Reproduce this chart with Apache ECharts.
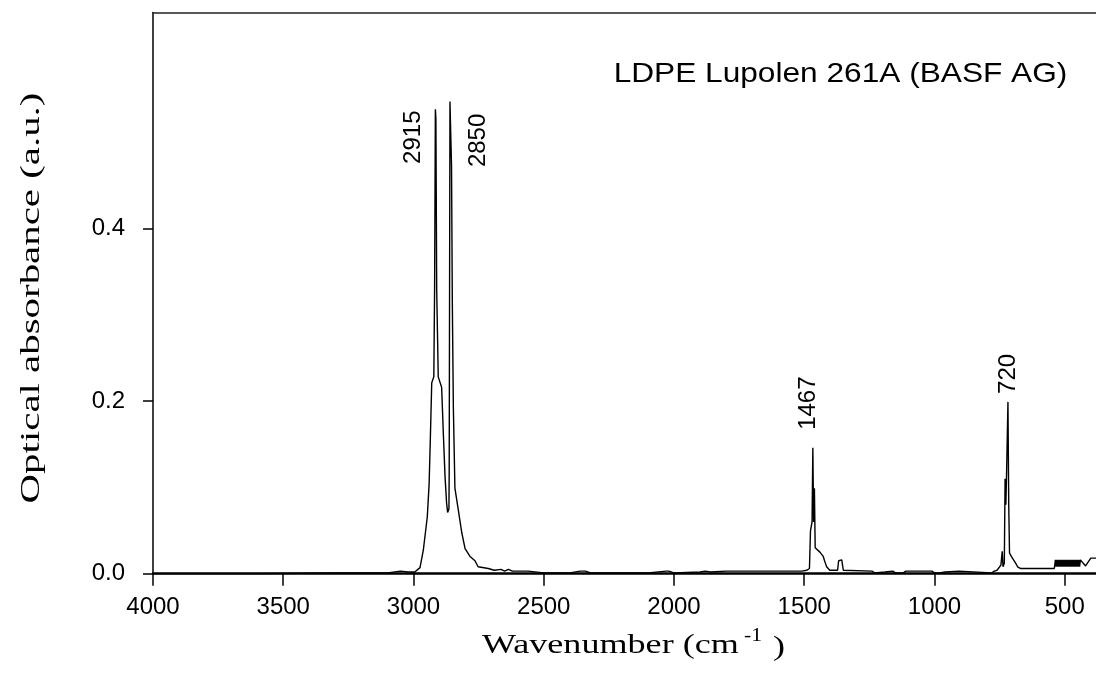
<!DOCTYPE html>
<html>
<head>
<meta charset="utf-8">
<script src="https://cdn.jsdelivr.net/npm/echarts@6/dist/echarts.min.js"></script>
<style>html,body{margin:0;padding:0;background:#fff;}#c{width:1096px;height:682px;}</style>
</head>
<body>
<div id="c"></div>
<script>
// Spectrum (wavenumber in cm^-1, absorbance a.u.)
const wavenumber = [4000,3600,3300,3100,3050,3020,2995,2989,2975,2962,2947,2940,2935,2930,2922,2919,2916,2914,2911,2908,2905,2898,2892,2885,2879,2873,2869,2864,2863,2860,2856,2854,2851,2847,2841,2828,2815,2802,2783,2764,2752,2713,2690,2664,2650,2636,2620,2560,2500,2400,2360,2340,2320,2100,2030,2020,2000,1900,1880,1860,1800,1700,1600,1510,1490,1480,1478,1476,1470,1467,1464,1461,1458,1440,1427,1421,1414,1402,1372,1368,1356,1350,1345,1240,1230,1190,1160,1150,1120,1110,1010,1000,980,960,906,900,780,770,760,745,740,737,732,729,726,723,718,715,712,705,698,688,681,669,600,540,536,533,530,527,524,521,518,515,512,509,506,503,500,497,494,491,488,485,482,479,476,473,470,467,464,461,458,455,452,449,446,443,440,420,400,380];
const absorbance = [0.000,0.000,0.001,0.001,0.003,0.002,0.002,0.004,0.007,0.028,0.066,0.104,0.160,0.221,0.228,0.330,0.538,0.527,0.330,0.330,0.228,0.227,0.216,0.159,0.113,0.082,0.071,0.075,0.116,0.547,0.547,0.472,0.316,0.193,0.099,0.074,0.048,0.029,0.020,0.015,0.008,0.006,0.004,0.005,0.003,0.005,0.003,0.003,0.001,0.001,0.003,0.003,0.001,0.001,0.003,0.003,0.001,0.002,0.003,0.002,0.003,0.003,0.003,0.003,0.004,0.006,0.008,0.050,0.060,0.146,0.060,0.099,0.030,0.025,0.020,0.014,0.008,0.004,0.004,0.015,0.016,0.004,0.003,0.003,0.001,0.002,0.003,0.001,0.001,0.003,0.003,0.001,0.001,0.002,0.003,0.001,0.001,0.003,0.004,0.010,0.026,0.008,0.012,0.110,0.080,0.120,0.199,0.080,0.024,0.020,0.018,0.012,0.008,0.006,0.006,0.006,0.016,0.008,0.016,0.008,0.016,0.008,0.016,0.008,0.016,0.008,0.016,0.008,0.016,0.008,0.016,0.008,0.016,0.008,0.016,0.008,0.016,0.008,0.016,0.008,0.016,0.008,0.016,0.008,0.016,0.008,0.016,0.008,0.016,0.009,0.018,0.018,0.018,0.018];

const xTicks = [4000,3500,3000,2500,2000,1500,1000,500];
const yTicks = [0, 0.2, 0.4];

const peakLabels = ['2915','2850','1467','720'];
const peakWn = [2915,2850,1467,720];
const peakAbs = [0.538,0.547,0.146,0.199];
const peakOffsets = [[-22,28],[26,39],[-4.5,-44.5],[0.5,-28]];

const chartTitle = 'LDPE Lupolen 261A (BASF AG)';
const xTitle = 'Wavenumber (cm';
const xTitleSup = '-1';
const xTitleEnd = ')';
const yTitle = 'Optical absorbance (a.u.)';

const sans = "'Liberation Sans', Arial, sans-serif";
const serif = "'Liberation Serif', 'Times New Roman', serif";

const chart = echarts.init(document.getElementById('c'), null, {renderer: 'canvas'});
const seriesData = wavenumber.map((w, i) => [w, absorbance[i]]);

chart.setOption({
  animation: false,
  backgroundColor: '#ffffff',
  grid: {left: 153, right: -5, top: 12.5, bottom: 108.3, show: false},
  xAxis: [{
    type: 'value', inverse: true, min: 380, max: 4000,
    axisLine: {show: true, onZero: false, lineStyle: {color: '#000', width: 2.5}},
    axisTick: {show: true, length: 12, inside: false, customValues: xTicks, lineStyle: {color: '#000', width: 1.5}},
    axisLabel: {customValues: xTicks, margin: 22, color: '#000', fontFamily: sans, fontSize: 24, formatter: v => String(v)},
    splitLine: {show: false}
  }, {
    type: 'value', inverse: true, min: 380, max: 4000, position: 'top',
    axisLine: {show: true, onZero: false, lineStyle: {color: '#222', width: 1.5}},
    axisTick: {show: false}, axisLabel: {show: false}, splitLine: {show: false}
  }],
  yAxis: {
    type: 'value', min: 0, max: 0.65,
    axisLine: {show: true, lineStyle: {color: '#000', width: 1.5}},
    axisTick: {show: true, length: 10, customValues: yTicks, lineStyle: {color: '#000', width: 1.5}},
    axisLabel: {customValues: yTicks, margin: 28, color: '#000', fontFamily: sans, fontSize: 24, formatter: v => Number(v).toFixed(1)},
    splitLine: {show: false}
  },
  series: [{
    type: 'line', data: seriesData, showSymbol: false, symbol: 'none', xAxisIndex: 0,
    lineStyle: {color: '#000', width: 1.4}, z: 3
  }]
});

const graphics = [];
peakLabels.forEach((t, i) => {
  const p = chart.convertToPixel({xAxisIndex: 0, yAxisIndex: 0}, [peakWn[i], peakAbs[i]]);
  graphics.push({
    type: 'text', x: p[0] + peakOffsets[i][0], y: p[1] + peakOffsets[i][1], rotation: Math.PI / 2,
    style: {text: t, font: '24px ' + sans, fill: '#000', textAlign: 'center', textVerticalAlign: 'middle'}
  });
});
graphics.push({type: 'text', x: 840.5, y: 74, scaleX: 1.13,
  style: {text: chartTitle, font: '28px ' + sans, fill: '#000', textAlign: 'center', textVerticalAlign: 'middle'}});
graphics.push({type: 'text', x: 482, y: 646, scaleX: 1.29,
  style: {text: xTitle, font: '28px ' + serif, fill: '#000', textAlign: 'left', textVerticalAlign: 'middle'}});
graphics.push({type: 'text', x: 744, y: 636, scaleX: 1.2,
  style: {text: xTitleSup, font: '18px ' + serif, fill: '#000', textAlign: 'left', textVerticalAlign: 'middle'}});
graphics.push({type: 'text', x: 773, y: 648, scaleX: 1.29,
  style: {text: xTitleEnd, font: '28px ' + serif, fill: '#000', textAlign: 'left', textVerticalAlign: 'middle'}});
graphics.push({type: 'text', x: 32, y: 298, rotation: Math.PI / 2, scaleX: 1.46,
  style: {text: yTitle, font: '28px ' + serif, fill: '#000', textAlign: 'center', textVerticalAlign: 'middle'}});
chart.setOption({graphic: graphics});
</script>
</body>
</html>
